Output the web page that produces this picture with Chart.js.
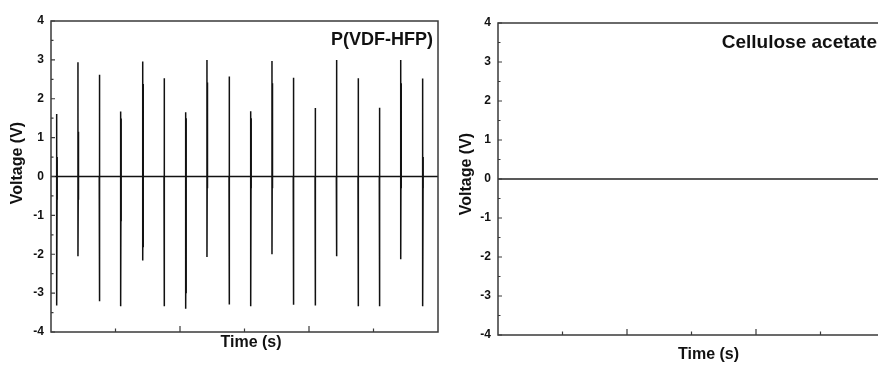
<!DOCTYPE html>
<html><head><meta charset="utf-8">
<script src="https://cdn.jsdelivr.net/npm/chart.js@4.4.0/dist/chart.umd.min.js"></script>
<style>
html,body{margin:0;padding:0;background:#fff;overflow:hidden;width:878px;height:365px;position:relative;}
#w1{position:absolute;left:0;top:0;width:445px;height:365px;}
#w2{position:absolute;left:445px;top:0;width:450px;height:365px;}
</style></head><body>
<div id="w1"><canvas id="c1"></canvas></div>
<div id="w2"><canvas id="c2"></canvas></div>
<script>
// ---- data ----
const yTicks = [-4, -3, -2, -1, 0, 1, 2, 3, 4];
const yMinorTicks = [-3.5, -2.5, -1.5, -0.5, 0.5, 1.5, 2.5, 3.5];
const xMajorTicks = [1, 2];
const xMinorTicks = [0.5, 1.5, 2.5];
const panelLabels = ["P(VDF-HFP)", "Cellulose acetate"];
const xTitle = "Time (s)";
const yTitle = "Voltage (V)";

// P(VDF-HFP) spikes
const spikeTimes = [0.044, 0.209, 0.374, 0.540, 0.711, 0.876, 1.044, 1.209, 1.380, 1.548, 1.713, 1.878, 2.047, 2.212, 2.380, 2.545, 2.711, 2.881];
const spikePeaks = [1.61, 2.94, 2.62, 1.67, 2.96, 2.53, 1.65, 3.00, 2.57, 1.68, 2.97, 2.54, 1.76, 3.00, 2.53, 1.77, 3.00, 2.52];
const spikeSecondPeaks = [0.50, 1.15, 2.43, 1.49, 2.38, 2.38, 1.50, 2.42, 2.38, 1.50, 2.40, 2.38, 1.18, 2.40, 1.54, 1.14, 2.40, 0.50];
const spikeTroughs = [-3.32, -2.05, -3.21, -3.34, -2.16, -3.34, -3.40, -2.07, -3.29, -3.34, -2.00, -3.30, -3.32, -2.05, -3.34, -3.34, -2.13, -3.34];
const spikeSecondTroughs = [-0.60, -0.60, -0.30, -1.15, -1.82, -2.40, -3.00, -0.30, -2.33, -0.30, -0.30, -2.30, -0.30, -0.30, -0.70, -1.05, -0.30, -0.30];
const baseTimes = [0, 3];
const baseValues = [0, 0];

// Cellulose acetate: flat signal
const caTimes = [0, 3];
const caValues = [0, 0];

// ---- build datasets ----
const FONT = "'Liberation Sans', Arial, sans-serif";
const d = 0.004;
const pvdfPoints = [{x: baseTimes[0], y: baseValues[0]}];
spikeTimes.forEach((t, i) => {
  pvdfPoints.push({x: t, y: 0});
  pvdfPoints.push({x: t, y: spikePeaks[i]});
  pvdfPoints.push({x: t, y: spikeTroughs[i]});
  pvdfPoints.push({x: t + d, y: spikeSecondPeaks[i]});
  pvdfPoints.push({x: t + d, y: spikeSecondTroughs[i]});
  pvdfPoints.push({x: t + d, y: 0});
});
pvdfPoints.push({x: baseTimes[1], y: baseValues[1]});
const caPoints = caTimes.map((t, i) => ({x: t, y: caValues[i]}));

function framePlugin(cfg) {
  return {
    id: 'frame',
    afterDatasetsDraw(chart) {
      const ctx = chart.ctx, a = chart.chartArea;
      const xs = chart.scales.x, ys = chart.scales.y;
      ctx.save();
      ctx.strokeStyle = '#3a3a3a';
      ctx.lineWidth = 1.5;
      ctx.strokeRect(a.left, a.top, a.right - a.left, a.bottom - a.top);
      ctx.lineWidth = 1.2;
      ctx.beginPath();
      yTicks.forEach(v => { const y = ys.getPixelForValue(v); ctx.moveTo(a.left, y); ctx.lineTo(a.left + 4, y); });
      yMinorTicks.forEach(v => { const y = ys.getPixelForValue(v); ctx.moveTo(a.left, y); ctx.lineTo(a.left + 2.5, y); });
      xMajorTicks.forEach(v => { const x = xs.getPixelForValue(v); ctx.moveTo(x, a.bottom); ctx.lineTo(x, a.bottom - 6); });
      xMinorTicks.forEach(v => { const x = xs.getPixelForValue(v); ctx.moveTo(x, a.bottom); ctx.lineTo(x, a.bottom - 3.5); });
      ctx.stroke();
      ctx.restore();
    },
    afterDraw(chart) {
      const ctx = chart.ctx, a = chart.chartArea;
      ctx.save();
      ctx.fillStyle = '#111';
      // panel label
      ctx.font = 'bold ' + cfg.labelSize + 'px ' + FONT;
      ctx.textAlign = 'right';
      ctx.textBaseline = 'alphabetic';
      ctx.fillText(cfg.label, a.right + cfg.labelDx, cfg.labelY);
      // x title
      ctx.font = 'bold 16px ' + FONT;
      ctx.textAlign = 'center';
      ctx.fillText(xTitle, cfg.xTitleX, cfg.xTitleY);
      // y title
      ctx.translate(cfg.yTitleX, cfg.yTitleY);
      ctx.rotate(-Math.PI / 2);
      ctx.textBaseline = 'middle';
      ctx.font = 'bold 16px ' + FONT;
      ctx.fillText(yTitle, 0, 0);
      ctx.restore();
    }
  };
}

function makeChart(id, points, lineColor, lineWidth, pad, yWidth, xHeight, cfg) {
  return new Chart(document.getElementById(id), {
    type: 'line',
    data: { datasets: [{ data: points, borderColor: lineColor, borderWidth: lineWidth, pointRadius: 0, tension: 0, fill: false }] },
    options: {
      responsive: true, maintainAspectRatio: false, animation: false,
      layout: { padding: pad },
      plugins: { legend: { display: false }, tooltip: { enabled: false } },
      scales: {
        x: { type: 'linear', min: 0, max: 3,
             ticks: { display: false }, grid: { display: false, drawTicks: false }, border: { display: false },
             afterFit(s) { s.height = xHeight; } },
        y: { type: 'linear', min: -4, max: 4,
             afterBuildTicks(s) { s.ticks = yTicks.map(v => ({ value: v })); },
             ticks: { font: { family: FONT, size: 12, weight: 'bold' }, color: '#111', padding: 7 },
             grid: { display: false, drawTicks: false }, border: { display: false },
             afterFit(s) { s.width = yWidth; } }
      }
    },
    plugins: [framePlugin(cfg)]
  });
}

makeChart('c1', pvdfPoints, '#111', 1.5, { left: 0, top: 21, right: 7, bottom: 0 }, 51, 33,
  { label: panelLabels[0], labelSize: 18, labelDx: -5, labelY: 45, xTitleX: 251, xTitleY: 347, yTitleX: 18, yTitleY: 163 });
makeChart('c2', caPoints, '#222', 1.6, { left: 0, top: 23, right: 10, bottom: 0 }, 53, 30,
  { label: panelLabels[1], labelSize: 19, labelDx: -8, labelY: 48, xTitleX: 263.5, xTitleY: 359, yTitleX: 21.7, yTitleY: 174 });
</script>
</body></html>
